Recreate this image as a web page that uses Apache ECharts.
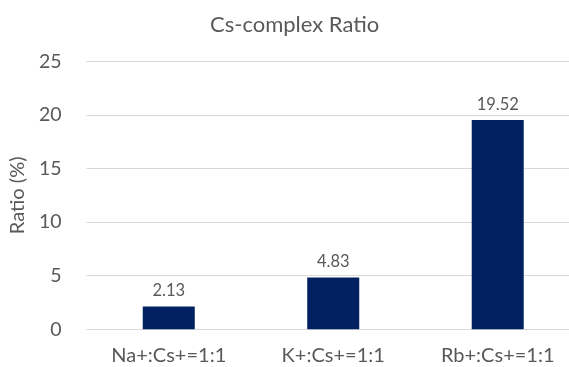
<!DOCTYPE html>
<html>
<head>
<meta charset="utf-8">
<script src="https://cdn.jsdelivr.net/npm/echarts@6/dist/echarts.min.js"></script>
<style>html,body{margin:0;padding:0;background:#fff}#c{width:569px;height:367px}</style>
</head>
<body>
<div id="c"></div>
<script>
var categories = ["Na+:Cs+=1:1", "K+:Cs+=1:1", "Rb+:Cs+=1:1"];
var ratioValues = [2.13, 4.83, 19.52];
var yTicks = [0, 5, 10, 15, 20, 25];

var FONT = "Lato";
var TXT = "#595959";
var catIdx = categories.map(function(c, i){ return i; });
var chart = echarts.init(document.getElementById('c'));
chart.setOption({
  animation: false,
  title: {
    text: "Cs-complex Ratio",
    left: 205, top: 9,
    textStyle: {fontFamily: FONT, fontSize: 22, fontWeight: 'normal', color: TXT}
  },
  grid: {left: 85, top: 61.3, right: 0, height: 268},
  xAxis: {
    type: 'value', min: -0.5, max: 2.4333,
    axisLine: {show: false}, axisTick: {show: false}, splitLine: {show: false},
    axisLabel: {color: TXT, fontFamily: FONT, fontSize: 20, margin: 16,
                customValues: catIdx,
                formatter: function(v){ return categories[Math.round(v)] || ''; }}
  },
  yAxis: {
    type: 'value', min: yTicks[0], max: yTicks[yTicks.length-1], interval: 5,
    name: "Ratio (%)", nameLocation: 'middle', nameRotate: 90, nameGap: 52,
    nameTextStyle: {color: TXT, fontFamily: FONT, fontSize: 20},
    axisLine: {show: false}, axisTick: {show: false},
    axisLabel: {color: TXT, fontFamily: FONT, fontSize: 19.5, margin: 25},
    splitLine: {lineStyle: {color: '#D9D9D9', width: 1}}
  },
  series: [{
    type: 'bar',
    data: ratioValues.map(function(v, i){ return [catIdx[i], v]; }),
    barWidth: 52,
    itemStyle: {color: '#002060'},
    label: {show: true, position: 'top', distance: 7, color: TXT, fontFamily: FONT, fontSize: 16.5,
            formatter: function(p){ return p.value[1].toFixed(2); }}
  }]
});
</script>
</body>
</html>
